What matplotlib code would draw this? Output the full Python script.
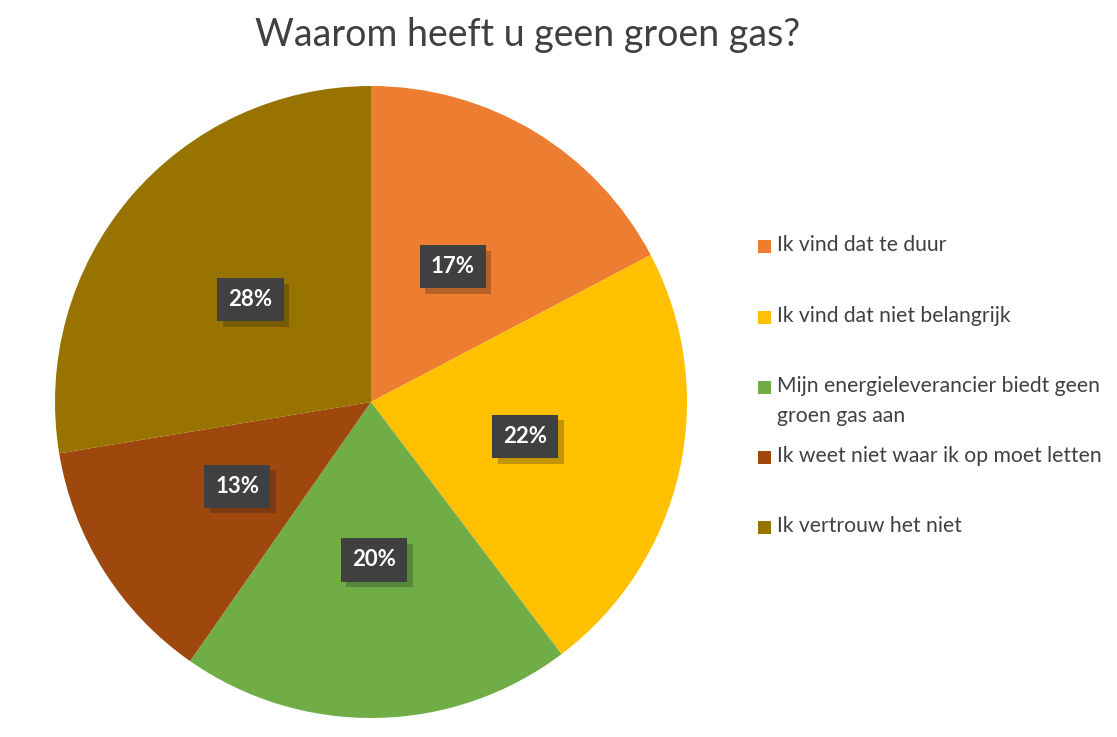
import matplotlib
matplotlib.use("Agg")
import matplotlib.pyplot as plt
from matplotlib.patches import Rectangle
import matplotlib.patheffects as pe

title = "Waarom heeft u geen groen gas?"
categories = ["Ik vind dat te duur",
              "Ik vind dat niet belangrijk",
              "Mijn energieleverancier biedt geen\ngroen gas aan",
              "Ik weet niet waar ik op moet letten",
              "Ik vertrouw het niet"]
values = [17.3, 22.4, 20.0, 12.7, 27.6]
colors = ["#ED7D31", "#FFC000", "#70AD47", "#9E480E", "#997300"]

plt.rcParams['font.family'] = ['Lato', 'DejaVu Sans']

fig = plt.figure(figsize=(11.17, 7.37), dpi=100)
W, H = 1117, 737
cx, cy, r = 371, 402, 316
ax = fig.add_axes([(cx - r) / W, 1 - (cy + r) / H, 2 * r / W, 2 * r / H])
wedges, texts, autotexts = ax.pie(values, colors=colors, startangle=90, counterclock=False,
                                  autopct='%.0f%%', pctdistance=0.5,
                                  wedgeprops=dict(linewidth=0))
ax.set_xlim(-1, 1)
ax.set_ylim(-1, 1)
ax.set_aspect('equal')
for t in autotexts:
    t.set_color('white')
    t.set_fontsize(16)
    t.set_fontweight('bold')
    t.set_bbox(dict(boxstyle='square,pad=0.5', facecolor='#404040', edgecolor='none',
                    path_effects=[pe.SimplePatchShadow(offset=(4, -4), alpha=0.25), pe.Normal()]))

fig.text(0.5 * (258 + 797) / W, 1 - 35 / H, title, ha='center', va='center',
         fontsize=27, color='#404040')

# legend
ys = [247, 318, 388, 458, 528]
for y, lab, c in zip(ys, categories, colors):
    fig.patches.append(Rectangle((758 / W, 1 - (y + 6) / H), 13 / W, 13 / H,
                                 transform=fig.transFigure, facecolor=c, edgecolor='none'))
    fig.text(777 / W, 1 - (y - 12) / H, lab, ha='left', va='top', fontsize=15.2,
             color='#404040', linespacing=1.6)

fig.savefig("out.png", dpi=100, facecolor='white')
